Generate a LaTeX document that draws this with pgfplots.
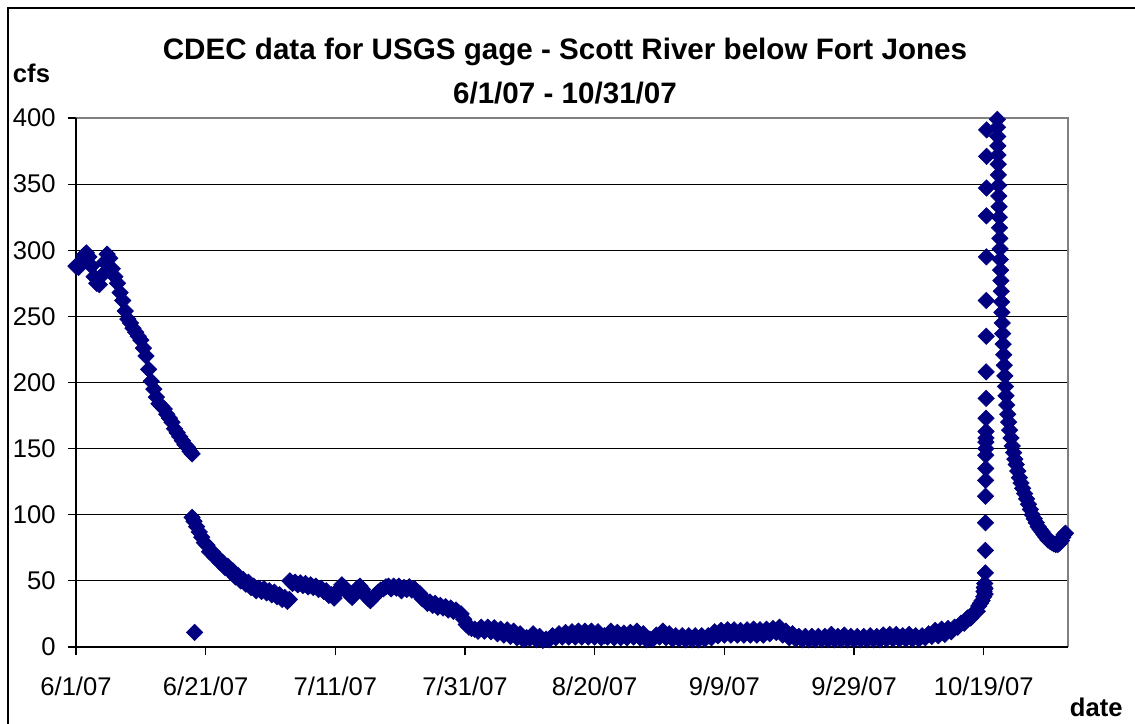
\documentclass[border=0pt]{standalone}
\usepackage{pgfplots}
\pgfplotsset{compat=1.18}
\usepackage{fontspec}
\setmainfont{Liberation Sans}
\definecolor{flow}{RGB}{0,0,128}
\definecolor{frameGray}{RGB}{128,128,128}

% Scott River below Fort Jones, discharge readings (cfs)
% x = days since 6/1/07
\pgfplotstableread{
day value
0.0 288
0.4 287
0.8 291
1.2 296
1.6 298
2.0 295
2.4 288
2.8 280
3.2 275
3.6 274
4.0 281
4.4 291
4.8 297
5.2 294
5.6 286
6.0 280
6.4 275
6.8 268
7.2 262
7.6 254
8.0 248
8.4 245
8.8 241
9.2 238
9.6 235
10.0 232
10.4 226
10.8 220
11.2 210
11.6 201
12.0 195
12.4 189
12.8 184
13.2 182
13.6 180
14.0 176
14.4 173
14.8 170
15.2 165
15.6 162
16.0 159
16.4 156
16.8 153
17.2 151
17.6 148
17.9 146
18.3 11
17.9 98
18.2 95
18.6 91
19.0 87
19.4 83
19.8 79
20.2 77
20.6 72
21.0 72
21.4 68
21.8 68
22.2 64
22.6 64
23.0 60
23.4 61
23.8 57
24.2 57.5
24.6 53
25.0 54
25.4 50
25.8 51
26.2 47.5
26.6 49
27.0 45
27.4 46
27.8 42.5
28.2 44.5
28.6 42
29.0 44
29.4 41
29.8 42.5
30.2 39.5
30.6 41.5
31.0 38
31.4 39.5
31.8 36
32.2 37.5
32.6 34.5
32.9 36
33.0 50
33.4 48
33.8 49
34.2 47
34.6 48.5
35.0 46.5
35.4 48
35.8 45.5
36.2 47
36.6 45
37.0 46
37.4 43.5
37.8 44.5
38.2 42
38.6 42.5
39.0 39
39.4 39.5
39.8 37
40.2 41
40.6 44
41.0 47
41.4 45
41.8 42
42.2 39.5
42.6 37.5
43.0 41
43.4 44.5
43.8 46
44.2 43.5
44.6 40
45.0 37
45.4 35
45.8 37
46.2 39.5
46.6 41.5
47.0 43
47.4 44
47.8 45.5
48.2 46
48.6 44
49.0 46
49.4 44.5
49.8 46
50.2 42.5
50.6 45
51.0 43.5
51.4 45.5
51.8 43
52.2 44
52.6 41
53.0 40.5
53.4 36.5
53.8 36
54.2 33
54.6 34
55.0 31.5
55.4 33
55.8 30
56.2 31.5
56.6 29.5
57.0 30.5
57.4 28
57.8 29.5
58.2 27
58.6 28
59.0 26
59.4 25
59.8 21
60.2 17
60.6 15
61.0 14
61.5 13.5
62.0 12
62.5 15
63.0 12
63.5 15
64.0 11.5
64.5 14.5
65.0 10
65.5 13.5
66.0 9
66.5 13
67.0 8
67.5 12
68.0 7
68.5 10
69.0 5.5
69.5 7
70.0 6.5
70.5 10
71.0 5.5
71.5 8
72.0 5
72.5 6
73.0 5.5
73.5 8.5
74.0 7
74.5 10
75.0 7.5
75.5 11
76.0 7.5
76.5 11.5
77.0 7.5
77.5 12
78.0 7.5
78.5 12
79.0 7.5
79.5 12
80.0 7.5
80.5 11.5
81.0 7
81.5 8.5
82.0 7.5
82.5 12
83.0 7
83.5 11
84.0 7
84.5 10.5
85.0 7
85.5 11
86.0 7.5
86.5 12
87.0 7
87.5 10
88.0 5.5
88.5 6
89.0 6
89.5 9
90.0 7.5
90.5 12
91.0 7
91.5 10
92.0 6
92.5 8.5
93.0 6
93.5 8.5
94.0 5.5
94.5 8.5
95.0 5.5
95.5 8.5
96.0 5.5
96.5 8.5
97.0 6
97.5 8.5
98.0 7
98.5 11.5
99.0 8.5
99.5 12.5
100.0 9
100.5 13
101.0 9
101.5 13
102.0 9
102.5 12.5
103.0 9
103.5 13
104.0 9
104.5 13.5
105.0 9
105.5 13
106.0 9
106.5 13.5
107.0 10
107.5 14
108.0 11
108.5 15
109.0 9
109.5 12
110.0 7
110.5 10
111.0 6
111.5 8
112.0 5.5
112.5 8
113.0 5.5
113.5 8
114.0 5.5
114.5 8
115.0 5.5
115.5 8
116.0 5.5
116.5 9.5
117.0 5.5
117.5 8
118.0 5.5
118.5 9
119.0 5.5
119.5 8
120.0 5.5
120.5 8
121.0 5.5
121.5 8
122.0 5.5
122.5 8.5
123.0 5.5
123.5 8
124.0 5.5
124.5 9
125.0 6
125.5 9.5
126.0 6
126.5 9.5
127.0 6
127.5 8.5
128.0 6
128.5 9.5
129.0 6
129.5 8.5
130.0 6
130.5 8.5
131.0 7
131.5 10
132.0 8
132.5 12.5
133.0 8.5
133.5 13.5
134.0 9.5
134.5 14
135.0 11.5
135.5 15
136.0 15
136.5 18
137.0 18
137.5 22
138.0 22
138.5 26
139.0 27
139.25 31
139.5 33
139.75 35
140.0 38
140.05 42
140.1 45
140.15 48
140.2 44
140.22 40
140.25 56
140.26 73
140.27 94
140.28 114
140.29 126
140.30 135
140.31 145
140.32 150
140.33 155
140.34 158
140.35 163
140.36 173
140.37 188
140.38 208
140.39 235
140.40 262
140.41 295
140.42 326
140.43 347
140.44 371
140.45 391
142.1 399
142.12 393
142.15 386
142.18 379
142.2 372
142.23 365
142.26 357
142.3 349
142.33 341
142.36 333
142.4 325
142.44 317
142.48 309
142.52 301
142.56 293
142.6 285
142.65 277
142.7 269
142.75 261
142.8 253
142.86 245
142.92 237
143.0 229
143.08 221
143.16 213
143.25 205
143.35 197
143.45 190
143.55 183
143.7 176
143.85 170
144.0 164
144.2 158
144.4 152
144.6 147
144.8 142
145.0 138
145.25 133
145.5 128
145.75 124
146.0 120
146.3 116
146.6 112
146.9 108
147.2 104
147.5 100
147.8 97
148.1 94
148.4 91
148.7 89
149.0 87
149.3 85
149.6 83
149.9 81
150.2 80
150.5 79
150.8 78
151.1 77.5
151.4 77.5
151.7 78.5
152.0 80.5
152.2 83
152.4 85
152.6 86
}\flowdata

\begin{document}
\begin{tikzpicture}[x=1pt,y=1pt]
\useasboundingbox (-38,-38) rectangle (529.5,323.5);
\begin{axis}[
  at={(0,0)}, anchor=south west,
  scale only axis, width=496pt, height=264.5pt,
  xmin=0, xmax=153, ymin=0, ymax=400,
  clip=false,
  axis line style={draw=none},
  xtick={0,20,...,140},
  xticklabels={6/1/07,6/21/07,7/11/07,7/31/07,8/20/07,9/9/07,9/29/07,10/19/07},
  ytick={0,50,...,400},
  tick pos=left,
  tick align=outside,
  major tick length=4.2pt,
  tick style={black, line width=0.6pt},
  ymajorgrids,
  grid style={black, line width=0.5pt},
  /pgf/number format/assume math mode=true,
  tick label style={font=\fontsize{12.8}{15}\selectfont},
  xticklabel style={anchor=north, yshift=-7pt},
  yticklabel style={xshift=-2.5pt},
]
% plot-area frame: grey top/right, black axis lines left/bottom
\draw[frameGray, line width=1pt] (rel axis cs:0,1) -- (rel axis cs:1,1) -- (rel axis cs:1,0);
\draw[black, line width=0.8pt] (rel axis cs:0,1) -- (rel axis cs:0,0) -- (rel axis cs:1,0);
\addplot[only marks, mark=square*, mark size=2.9pt,
  mark options={rotate=45, fill=flow, draw=flow, line width=0.3pt}]
  table[x=day, y=value] {\flowdata};
\end{axis}
% chart-area frame
\draw[line width=1pt] (-34,-45) -- (-34,319.5) -- (540,319.5);
\node[font=\fontsize{14.8}{17}\selectfont\bfseries] at (244.5,297.5) {CDEC data for USGS gage - Scott River below Fort Jones};
\node[font=\fontsize{14.8}{17}\selectfont\bfseries] at (244.5,277) {6/1/07 - 10/31/07};
\node[anchor=west, font=\fontsize{12.8}{15}\selectfont\bfseries, inner sep=0pt] at (-31.7,287) {cfs};
\node[anchor=east, font=\fontsize{12.8}{15}\selectfont\bfseries, inner sep=0pt] at (523.5,-30) {date};
\end{tikzpicture}
\end{document}
